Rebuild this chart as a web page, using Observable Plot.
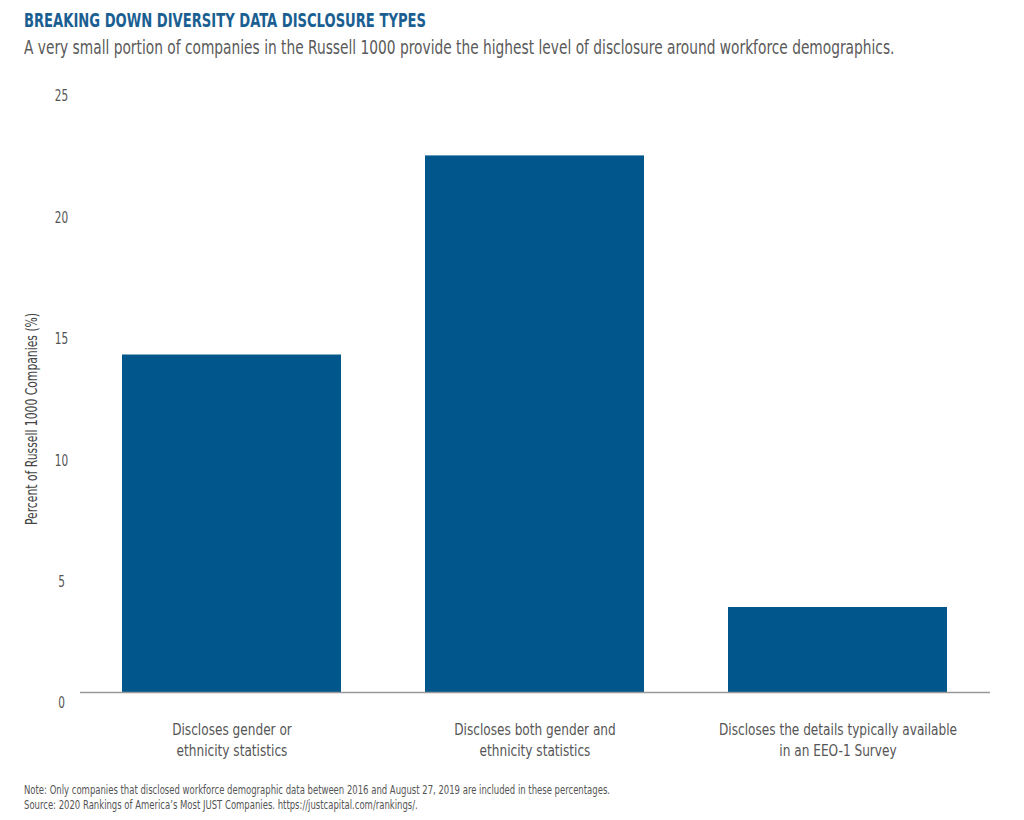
<!DOCTYPE html>
<html>
<head>
<meta charset="utf-8">
<script src="https://cdn.jsdelivr.net/npm/d3@7"></script>
<script src="https://cdn.jsdelivr.net/npm/@observablehq/plot@0.6"></script>
<style>
  body { margin: 0; background: #fff; width: 1024px; height: 820px; position: relative; overflow: hidden;
         font-family: "DejaVu Sans Condensed", "DejaVu Sans", sans-serif; font-stretch: condensed; }
  .hs { position: absolute; left: 24px; white-space: nowrap; transform-origin: 0 0; }
  #title { top: 8px; font-size: 20px; font-weight: bold; color: #1b5f92; transform: scaleX(0.73); }
  #subtitle { top: 36px; font-size: 19px; color: #5a5a5a; transform: scaleX(0.806); }
  #chart { position: absolute; left: 0; top: 70px; }
  #caption { top: 783px; font-size: 11.5px; color: #555; line-height: 15px; transform: scaleX(0.82); }
</style>
</head>
<body>
<div id="title" class="hs">BREAKING DOWN DIVERSITY DATA DISCLOSURE TYPES</div>
<div id="subtitle" class="hs">A very small portion of companies in the Russell 1000 provide the highest level of disclosure around workforce demographics.</div>
<div id="chart"></div>
<div id="caption" class="hs">Note: Only companies that disclosed workforce demographic data between 2016 and August 27, 2019 are included in these percentages.<br>Source: 2020 Rankings of America’s Most JUST Companies. https://justcapital.com/rankings/.</div>
<script>
const categories = [
  "Discloses gender or\nethnicity statistics",
  "Discloses both gender and\nethnicity statistics",
  "Discloses the details typically available\nin an EEO-1 Survey"
];
const values = [13.9, 22.1, 3.5];
const yTicks = [0, 5, 10, 15, 20, 25];
const yLabel = "Percent of Russell 1000 Companies (%)";

const data = categories.map((c, i) => ({category: c, value: values[i]}));

const plot = Plot.plot({
  width: 1024,
  height: 700,
  marginTop: 15,
  marginBottom: 78,
  marginLeft: 80,
  marginRight: 34,
  style: {fontFamily: '"DejaVu Sans Condensed", "DejaVu Sans", sans-serif', fontSize: "15px", color: "#555", background: "#fff"},
  x: {domain: categories, paddingInner: 0.277, paddingOuter: 0.1385, label: null},
  y: {domain: [0, 25], label: null},
  marks: [
    Plot.barY(data, {x: "category", y: "value", fill: "#01578b"}),
    Plot.ruleY([0], {stroke: "#999", strokeWidth: 1.5}),
    Plot.axisY(yTicks, {tickSize: 0, tickPadding: 19, textAnchor: "middle", dy: 11, fontSize: 15, fill: "#555", label: null}),
    Plot.text([yLabel], {frameAnchor: "left", textAnchor: "middle", rotate: -90, dx: -48, dy: 30, fontSize: 15, fill: "#444"}),
    Plot.axisX({tickSize: 0, tickPadding: 28, fontSize: 15, fill: "#555", lineHeight: 1.4, label: null})
  ]
});
// condense SVG text horizontally (keeps it as real text)
plot.querySelectorAll("text").forEach(t => {
  const tr = t.getAttribute("transform");
  if (!tr) return;
  const g = t.closest("g[aria-label]");
  const lab = g ? g.getAttribute("aria-label") : "";
  let s = 0.85;
  if (t.textContent === yLabel) s = 0.8;
  else if (lab.startsWith("x-axis")) s = 0.9;
  else if (lab.startsWith("y-axis")) s = 0.78;
  t.setAttribute("transform", tr + ` scale(${s},1)`);
});
document.getElementById("chart").appendChild(plot);
</script>
</body>
</html>
